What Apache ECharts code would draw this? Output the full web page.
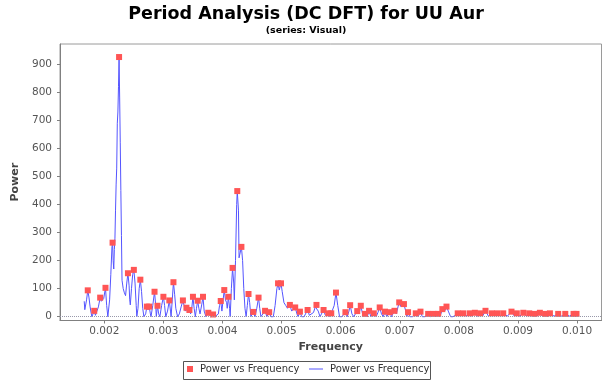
<!DOCTYPE html>
<html><head><meta charset="utf-8">
<script src="https://cdn.jsdelivr.net/npm/echarts@6/dist/echarts.min.js"></script>
<style>html,body{margin:0;padding:0;background:#fff}#c{width:612px;height:382px}</style>
</head><body><div id="c"></div>
<script>
// Peak markers (red squares)
const peakFreq = [0.00172,0.00183,0.00193,0.00202,0.00214,0.00225,0.00240,0.00250,0.00261,0.00272,0.00276,0.00285,0.00290,0.00300,0.00310,0.00317,0.00333,0.00339,0.00344,0.00350,0.00358,0.00367,0.00376,0.00384,0.00397,0.00403,0.00410,0.00417,0.00425,0.00432,0.00444,0.00452,0.00461,0.00472,0.00479,0.00494,0.00499,0.00514,0.00523,0.00531,0.00544,0.00559,0.00571,0.00579,0.00584,0.00592,0.00608,0.00616,0.00628,0.00634,0.00641,0.00648,0.00656,0.00666,0.00675,0.00683,0.00691,0.00699,0.00707,0.00714,0.00727,0.00735,0.00748,0.00757,0.00765,0.00772,0.00779,0.00798,0.00807,0.00818,0.00827,0.00836,0.00845,0.00856,0.00865,0.00875,0.00889,0.00898,0.00909,0.00919,0.00928,0.00937,0.00946,0.00954,0.00968,0.00980,0.00994,0.00999];
const peakPower = [94,21,68,103,264,926,155,167,132,36,36,89,39,71,58,123,58,32,24,71,57,71,14,8,56,95,71,174,448,249,81,17,68,21,16,119,119,42,33,18,24,42,24,12,12,86,16,41,20,39,10,21,12,33,18,16,21,51,45,16,12,18,10,10,10,27,36,12,12,12,14,12,21,12,12,12,18,12,14,12,10,14,10,12,10,10,10,10];

// Spectrum (blue line)
const lineFreq = [0.00166,0.00167,0.00168,0.00170,0.00172,0.00174,0.00176,0.00178,0.00179,0.00181,0.00183,0.00185,0.00188,0.00190,0.00193,0.00195,0.00197,0.00199,0.00202,0.00204,0.00206,0.00207,0.00209,0.00211,0.00213,0.00214,0.00215,0.00216,0.00217,0.00218,0.00219,0.00220,0.00221,0.00222,0.00223,0.00224,0.00225,0.00226,0.00227,0.00228,0.00229,0.00230,0.00232,0.00234,0.00236,0.00238,0.00240,0.00242,0.00243,0.00244,0.00246,0.00248,0.00250,0.00252,0.00254,0.00255,0.00257,0.00259,0.00261,0.00263,0.00265,0.00267,0.00270,0.00272,0.00274,0.00276,0.00278,0.00279,0.00282,0.00285,0.00287,0.00288,0.00290,0.00292,0.00294,0.00297,0.00300,0.00302,0.00304,0.00307,0.00310,0.00312,0.00313,0.00315,0.00317,0.00319,0.00321,0.00324,0.00327,0.00330,0.00333,0.00335,0.00337,0.00339,0.00341,0.00344,0.00346,0.00348,0.00350,0.00352,0.00354,0.00356,0.00358,0.00360,0.00362,0.00365,0.00367,0.00369,0.00372,0.00376,0.00380,0.00384,0.00387,0.00390,0.00393,0.00395,0.00397,0.00399,0.00401,0.00403,0.00405,0.00407,0.00408,0.00410,0.00412,0.00413,0.00415,0.00417,0.00419,0.00420,0.00422,0.00424,0.00425,0.00427,0.00428,0.00430,0.00432,0.00434,0.00436,0.00438,0.00440,0.00442,0.00444,0.00446,0.00448,0.00450,0.00452,0.00455,0.00458,0.00461,0.00463,0.00465,0.00468,0.00472,0.00475,0.00477,0.00479,0.00482,0.00486,0.00489,0.00492,0.00494,0.00496,0.00499,0.00501,0.00504,0.00507,0.00510,0.00514,0.00517,0.00520,0.00523,0.00526,0.00528,0.00531,0.00534,0.00538,0.00541,0.00544,0.00547,0.00550,0.00554,0.00557,0.00559,0.00562,0.00565,0.00568,0.00571,0.00574,0.00576,0.00579,0.00582,0.00584,0.00587,0.00589,0.00592,0.00595,0.00598,0.00602,0.00605,0.00608,0.00611,0.00614,0.00616,0.00619,0.00622,0.00625,0.00628,0.00631,0.00634,0.00637,0.00641,0.00645,0.00648,0.00651,0.00656,0.00660,0.00663,0.00666,0.00669,0.00672,0.00675,0.00678,0.00683,0.00686,0.00691,0.00694,0.00697,0.00699,0.00702,0.00704,0.00707,0.00710,0.00712,0.00714,0.00717,0.00722,0.00727,0.00731,0.00735,0.00738,0.00743,0.00748,0.00752,0.00757,0.00761,0.00765,0.00768,0.00772,0.00776,0.00779,0.00782,0.00786,0.00790,0.00794,0.00798,0.00802,0.00807,0.00812,0.00818,0.00822,0.00827,0.00831,0.00836,0.00840,0.00845,0.00850,0.00856,0.00860,0.00865,0.00870,0.00875,0.00882,0.00889,0.00894,0.00898,0.00903,0.00909,0.00914,0.00919,0.00924,0.00928,0.00932,0.00937,0.00941,0.00946,0.00950,0.00954,0.00961,0.00968,0.00974,0.00980,0.00987,0.00994,0.00999];
const linePower = [55,25,20,60,94,70,35,10,0,5,21,5,0,35,68,55,50,65,103,40,0,0,60,150,250,264,200,170,240,280,380,470,530,690,730,820,926,780,620,450,290,130,100,85,75,120,155,110,60,42,100,150,167,120,40,0,30,100,132,90,30,0,10,36,25,36,10,0,40,89,40,0,39,10,0,40,71,40,0,20,58,20,0,60,123,80,30,0,10,35,58,40,20,32,15,24,10,30,71,30,0,30,57,30,10,45,71,20,0,14,0,8,0,0,10,40,56,20,60,95,60,50,30,71,30,0,100,174,120,60,200,400,448,380,210,215,249,200,100,30,0,40,81,50,0,5,17,0,30,68,30,0,5,21,0,5,16,0,0,40,100,119,95,119,90,50,40,30,42,20,15,33,10,0,18,0,0,5,24,5,0,15,35,42,20,0,5,24,5,0,12,0,12,5,40,86,40,0,0,0,16,0,20,41,10,0,5,20,10,39,10,10,0,21,0,12,0,15,33,10,0,18,0,16,0,21,10,35,51,35,30,45,20,0,16,0,0,12,0,18,0,0,10,0,10,0,10,0,27,20,36,20,0,0,5,12,2,12,2,12,2,14,2,12,2,21,2,12,2,12,2,12,2,18,2,12,2,14,2,12,2,10,2,14,2,10,2,12,2,10,2,10,2,10,10];

const xTicks = [0.002,0.003,0.004,0.005,0.006,0.007,0.008,0.009,0.010];
const yTicks = [0,100,200,300,400,500,600,700,800,900];

const peaks = peakFreq.map((f,i)=>[f,peakPower[i]]);
const line = lineFreq.map((f,i)=>[f,linePower[i]]);

const chart = echarts.init(document.getElementById('c'), null, {renderer:'canvas'});
const FONT = 'DejaVu Sans';
chart.setOption({
  animation:false,
  backgroundColor:'#ffffff',
  title:[
    {text:'Period Analysis (DC DFT) for UU Aur', left:'center', top:5, padding:0,
     textStyle:{fontFamily:FONT, fontWeight:'bold', fontSize:17.5, color:'#000'}},
    {text:'(series: Visual)', left:'center', top:26, padding:0,
     textStyle:{fontFamily:FONT, fontWeight:'bold', fontSize:9.5, color:'#000'}}
  ],
  grid:{left:60, right:10.5, top:44, bottom:61.5, show:true, borderColor:'#9a9a9a', borderWidth:1, backgroundColor:'#fff'},
  legend:[
    {data:[{name:'Peaks', icon:'rect'}], left:187, top:364, itemWidth:6, itemHeight:6, itemGap:0, padding:0,
     formatter:()=>'Power vs Frequency',
     textStyle:{fontFamily:FONT, fontSize:10, color:'#333', padding:[0,0,0,2]}},
    {data:[{name:'Spectrum', icon:'rect', itemStyle:{color:'#5555ff'}}], left:309, top:364, itemWidth:14, itemHeight:1, itemGap:0, padding:0,
     formatter:()=>'Power vs Frequency',
     textStyle:{fontFamily:FONT, fontSize:10, color:'#333', padding:[0,0,0,2]}}
  ],
  graphic:[{type:'rect', shape:{x:183.5, y:361.5, width:247, height:18}, style:{fill:null, stroke:'#555', lineWidth:1}, silent:true, z:-1}],
  xAxis:{type:'value', min:0.0012504, max:0.0104129,
    name:'Frequency', nameLocation:'middle', nameGap:20,
    nameTextStyle:{fontFamily:FONT, fontWeight:'bold', fontSize:11, color:'#444'},
    axisLine:{show:true, onZero:false, lineStyle:{color:'#808080'}},
    axisTick:{show:true, length:3, customValues:xTicks, lineStyle:{color:'#808080'}},
    axisLabel:{customValues:xTicks, margin:5, fontFamily:FONT, fontSize:10.5, color:'#555',
      formatter:v=>v.toFixed(3)},
    splitLine:{show:false}},
  yAxis:{type:'value', min:-13.55, max:972.5,
    name:'Power', nameLocation:'middle', nameGap:37, nameRotate:90,
    nameTextStyle:{fontFamily:FONT, fontWeight:'bold', fontSize:11, color:'#444'},
    axisLine:{show:true, onZero:false, lineStyle:{color:'#808080'}},
    axisTick:{show:true, length:3, customValues:yTicks, lineStyle:{color:'#808080'}},
    axisLabel:{customValues:yTicks, margin:8, fontFamily:FONT, fontSize:10.5, color:'#555'},
    splitLine:{show:false}},
  series:[
    {name:'Spectrum', type:'line', data:line, symbol:'none', showSymbol:false,
     lineStyle:{color:'#5555ff', width:1}, itemStyle:{color:'#5555ff'}, z:2,
     markLine:{silent:true, symbol:'none', label:{show:false},
       lineStyle:{color:'#9999aa', type:'dotted', width:1}, data:[{yAxis:0}]}},
    {name:'Peaks', type:'scatter', data:peaks, symbol:'rect', symbolSize:6,
     itemStyle:{color:'#ff5555', opacity:1}, z:3}
  ]
});
</script></body></html>
